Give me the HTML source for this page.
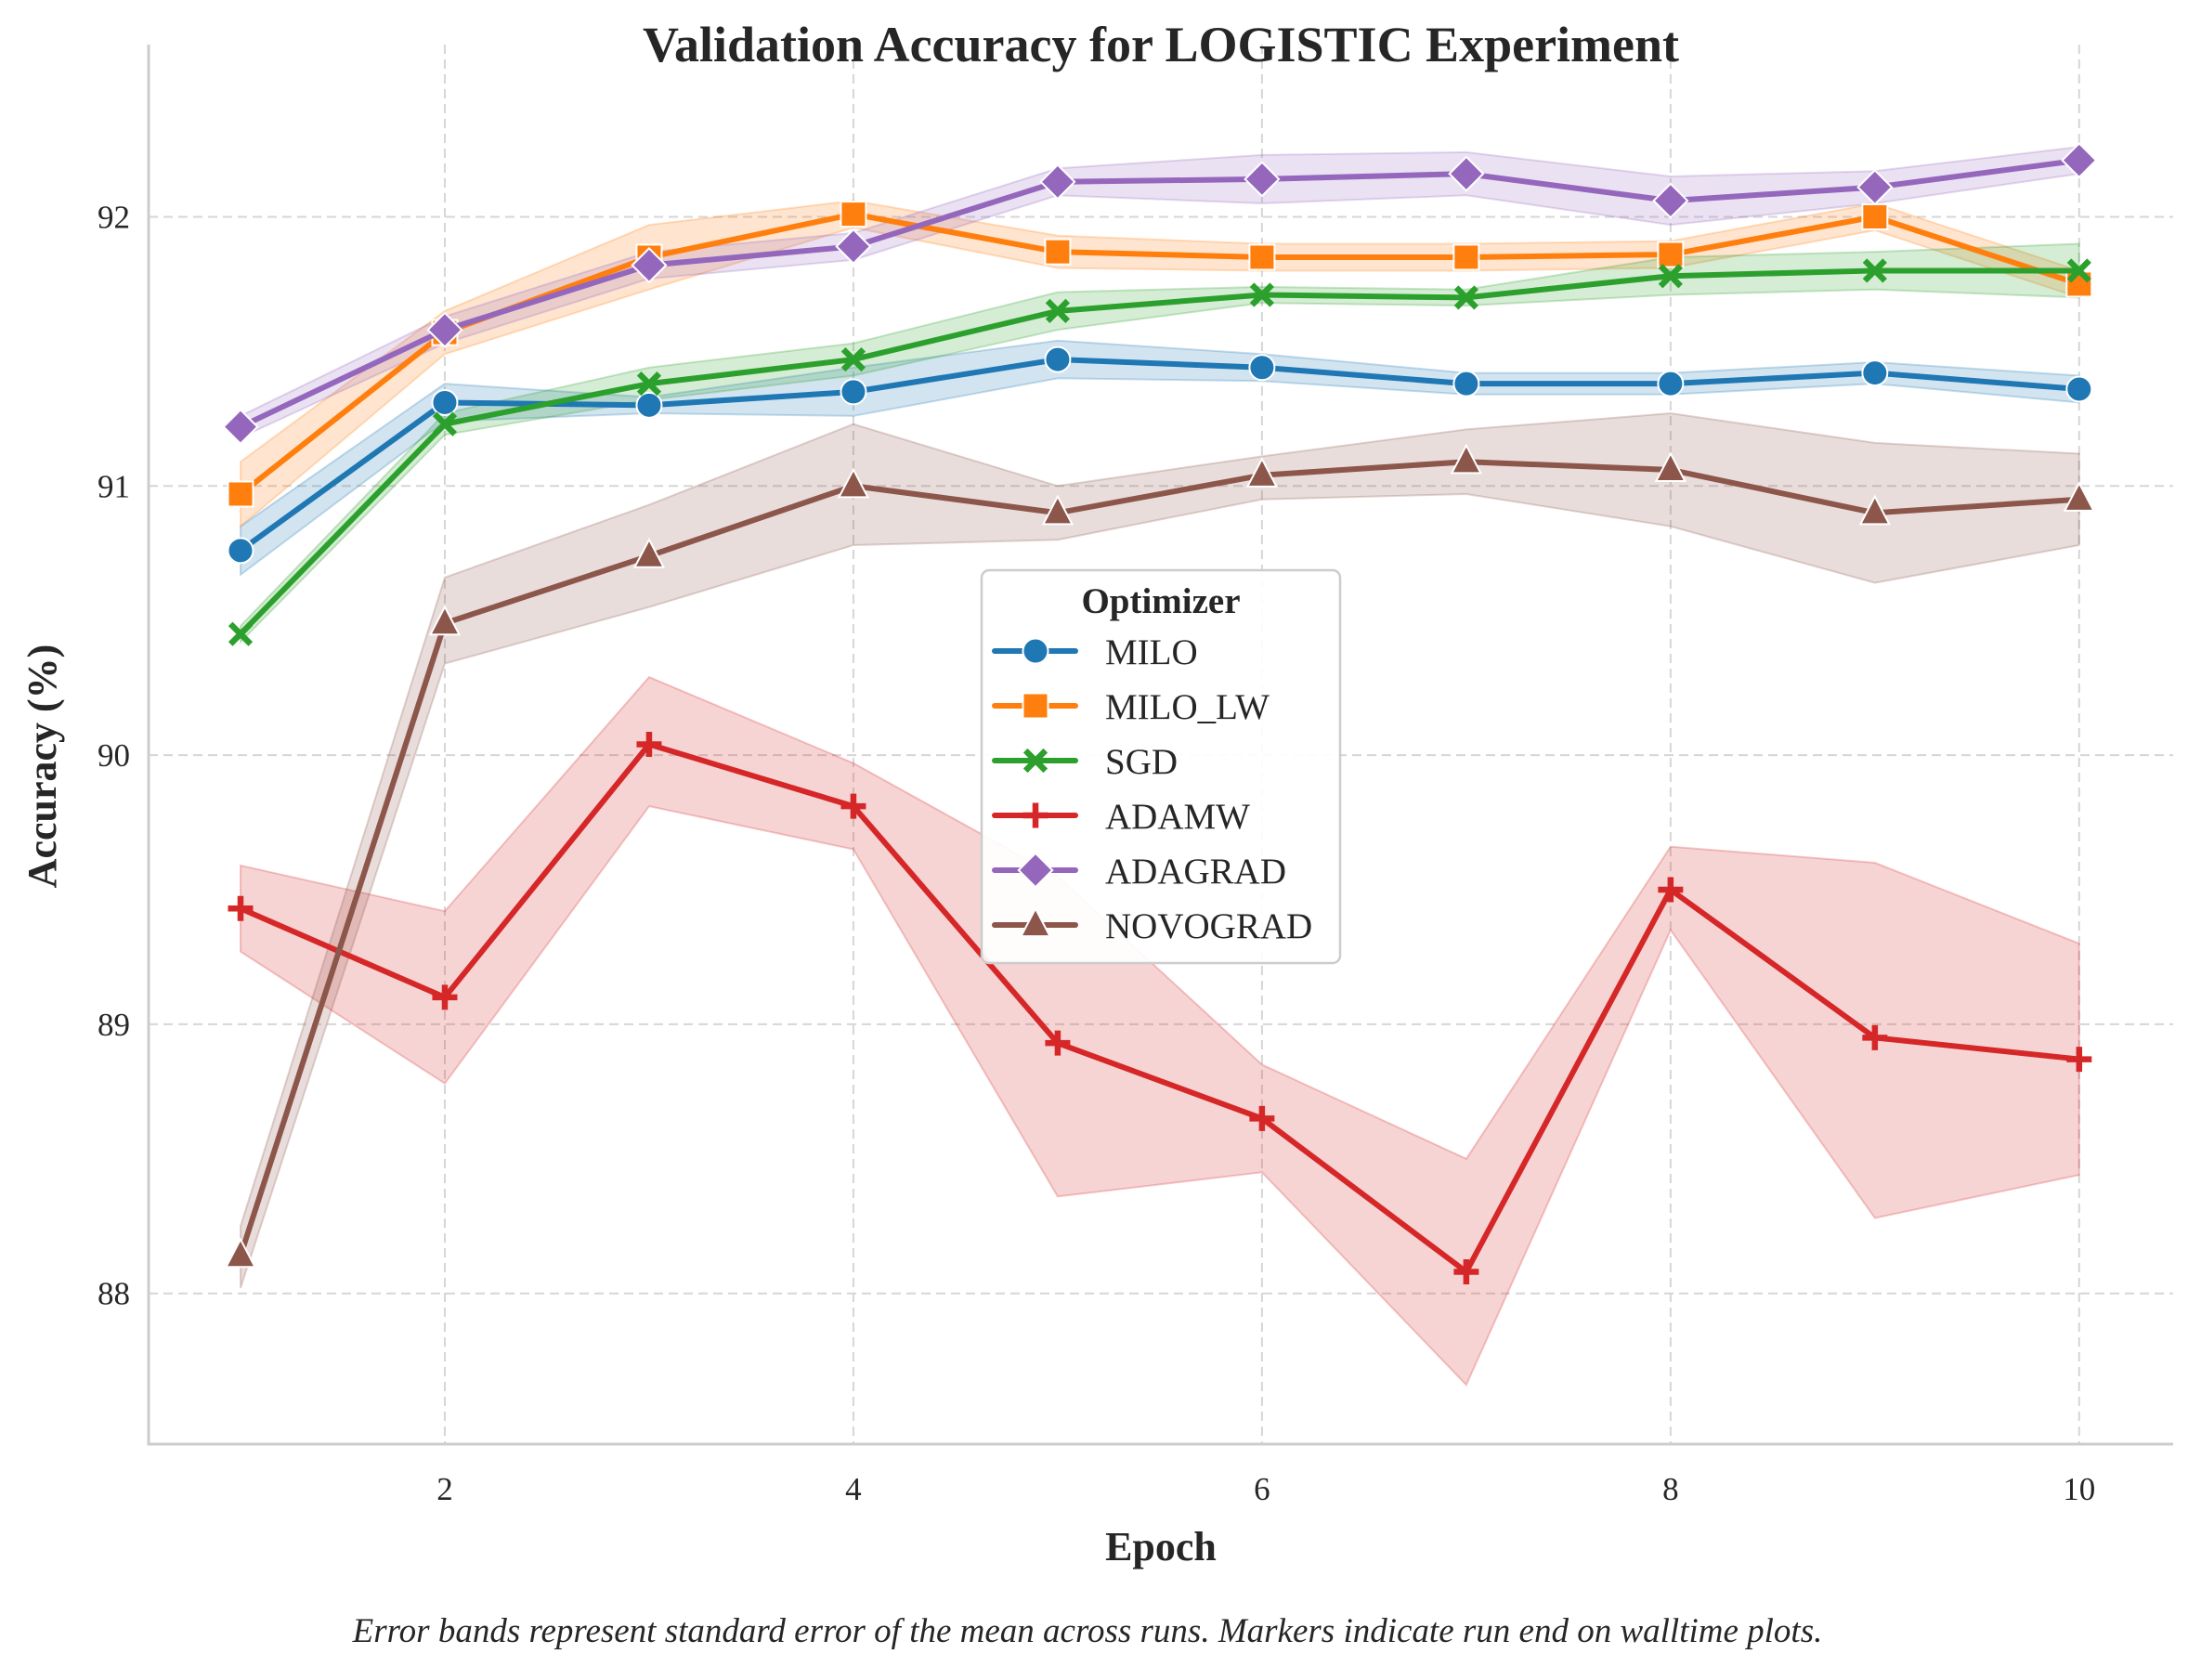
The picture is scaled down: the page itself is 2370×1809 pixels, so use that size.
<!DOCTYPE html>
<html><head><meta charset="utf-8"><style>
html,body{margin:0;padding:0;background:#fff;}
svg text{font-family:"Liberation Serif",serif;fill:#262626;}
</style></head><body>
<svg id="chart" width="2370" height="1804" viewBox="0 0 2370 1804" xmlns="http://www.w3.org/2000/svg">
<rect width="2370" height="1804" fill="#fff"/>
<g id="grid"></g><g id="bands"></g><g id="lines"></g><g id="axes"></g>
<text x="1250" y="66" text-anchor="middle" font-size="54" font-weight="bold">Validation Accuracy for LOGISTIC Experiment</text>
<text x="1250" y="1680" text-anchor="middle" font-size="44" font-weight="bold">Epoch</text>
<text transform="translate(60,825) rotate(-90)" text-anchor="middle" font-size="44" font-weight="bold">Accuracy (%)</text>
<text x="1171" y="1768" text-anchor="middle" font-size="37" font-style="italic">Error bands represent standard error of the mean across runs. Markers indicate run end on walltime plots.</text>
<g id="legend"></g>
</svg>
<script>
const epochs=[1,2,3,4,5,6,7,8,9,10];
const xTicks=[2,4,6,8,10];
const yTicks=[88,89,90,91,92];
const names=["MILO","MILO_LW","SGD","ADAMW","ADAGRAD","NOVOGRAD"];
const milo=[90.76,91.31,91.30,91.35,91.47,91.44,91.38,91.38,91.42,91.36];
const miloLo=[90.67,91.24,91.27,91.26,91.40,91.39,91.34,91.34,91.38,91.31];
const miloHi=[90.85,91.38,91.33,91.44,91.54,91.49,91.42,91.42,91.46,91.41];
const miloLw=[90.97,91.57,91.85,92.01,91.87,91.85,91.85,91.86,92.00,91.75];
const miloLwLo=[90.85,91.49,91.73,91.96,91.81,91.80,91.80,91.81,91.95,91.70];
const miloLwHi=[91.09,91.65,91.97,92.06,91.93,91.90,91.90,91.91,92.05,91.80];
const sgd=[90.45,91.23,91.38,91.47,91.65,91.71,91.70,91.78,91.80,91.80];
const sgdLo=[90.42,91.19,91.32,91.41,91.58,91.68,91.67,91.71,91.73,91.70];
const sgdHi=[90.48,91.27,91.44,91.53,91.72,91.74,91.73,91.85,91.87,91.90];
const adamw=[89.43,89.10,90.04,89.81,88.93,88.65,88.08,89.50,88.95,88.87];
const adamwLo=[89.27,88.78,89.81,89.65,88.36,88.45,87.66,89.35,88.28,88.44];
const adamwHi=[89.59,89.42,90.29,89.97,89.55,88.85,88.50,89.66,89.60,89.30];
const adagrad=[91.22,91.58,91.82,91.89,92.13,92.14,92.16,92.06,92.11,92.21];
const adagradLo=[91.18,91.53,91.77,91.84,92.08,92.05,92.08,91.97,92.05,92.16];
const adagradHi=[91.26,91.63,91.87,91.94,92.18,92.23,92.24,92.15,92.17,92.26];
const novograd=[88.14,90.49,90.74,91.00,90.90,91.04,91.09,91.06,90.90,90.95];
const novogradLo=[88.02,90.34,90.55,90.78,90.80,90.95,90.97,90.85,90.64,90.78];
const novogradHi=[88.25,90.66,90.93,91.23,91.00,91.11,91.21,91.27,91.16,91.12];

const series=[
 {name:names[0],v:milo,lo:miloLo,hi:miloHi,c:"#1f77b4",m:"circle"},
 {name:names[1],v:miloLw,lo:miloLwLo,hi:miloLwHi,c:"#ff7f0e",m:"square"},
 {name:names[2],v:sgd,lo:sgdLo,hi:sgdHi,c:"#2ca02c",m:"x"},
 {name:names[3],v:adamw,lo:adamwLo,hi:adamwHi,c:"#d62728",m:"plus"},
 {name:names[4],v:adagrad,lo:adagradLo,hi:adagradHi,c:"#9467bd",m:"diamond"},
 {name:names[5],v:novograd,lo:novogradLo,hi:novogradHi,c:"#8c564b",m:"triangle"}];
const L=160,R=2340,T=48,B=1555,X0=0.55,X1=10.46,Y0=87.44,Y1=92.64;
const sx=e=>L+(e-X0)/(X1-X0)*(R-L);
const sy=v=>B-(v-Y0)/(Y1-Y0)*(B-T);
const NS="http://www.w3.org/2000/svg";
function mk(tag,attrs,parent){const el=document.createElementNS(NS,tag);for(const k in attrs)el.setAttribute(k,attrs[k]);parent.appendChild(el);return el;}
const grid=document.getElementById('grid'),axes=document.getElementById('axes');
xTicks.forEach(t=>{
 const g=mk('line',{x1:sx(t),x2:sx(t),y1:T,y2:B,stroke:'#d6d6d6','stroke-width':2,'stroke-dasharray':'10,6'},grid);
 
 
 const tx=mk('text',{x:sx(t),y:B+60,'text-anchor':'middle','font-size':35},axes);tx.textContent=t;
 
 
});
yTicks.forEach(t=>{
 const g=mk('line',{x1:L,x2:R,y1:sy(t),y2:sy(t),stroke:'#d6d6d6','stroke-width':2,'stroke-dasharray':'10,6'},grid);
 
 
 const tx=mk('text',{x:L-20,y:sy(t)+12,'text-anchor':'end','font-size':35},axes);tx.textContent=t;
 
 
});
const sp1=mk('line',{x1:L,x2:L,y1:T,y2:B+1.5,stroke:'#cccccc','stroke-width':3},axes);


const sp2=mk('line',{x1:L-1.5,x2:R,y1:B,y2:B,stroke:'#cccccc','stroke-width':3},axes);



function marker(p,type,x,y,c,s){
 let el;
 if(type==='circle')el=mk('circle',{cx:x,cy:y,r:s,fill:c,stroke:'#fff','stroke-width':2},p);
 else if(type==='square')el=mk('rect',{x:x-s,y:y-s,width:2*s,height:2*s,fill:c,stroke:'#fff','stroke-width':2},p);
 else if(type==='diamond')el=mk('polygon',{points:`${x},${y-s*1.35} ${x+s*1.35},${y} ${x},${y+s*1.35} ${x-s*1.35},${y}`,fill:c,stroke:'#fff','stroke-width':2},p);
 else if(type==='triangle')el=mk('polygon',{points:`${x},${y-s*1.3} ${x+s*1.15},${y+s*0.9} ${x-s*1.15},${y+s*0.9}`,fill:c,stroke:'#fff','stroke-width':2},p);
 else if(type==='plus')el=mk('path',{d:`M${x-s},${y}H${x+s}M${x},${y-s}V${y+s}`,stroke:c,'stroke-width':6.5},p);
 else el=mk('path',{d:`M${x-s*0.8},${y-s*0.8}L${x+s*0.8},${y+s*0.8}M${x+s*0.8},${y-s*0.8}L${x-s*0.8},${y+s*0.8}`,stroke:c,'stroke-width':6.5},p);
 return el;
}
const bands=document.getElementById('bands'),lines=document.getElementById('lines');
series.forEach(s=>{
 const up=epochs.map((e,i)=>`${sx(e)},${sy(s.hi[i])}`);
 const dn=epochs.map((e,i)=>`${sx(e)},${sy(s.lo[i])}`).reverse();
 const b=mk('polygon',{points:up.concat(dn).join(' '),fill:s.c,'fill-opacity':0.2,stroke:s.c,'stroke-opacity':0.25,'stroke-width':2},bands);
 
 
});
series.forEach(s=>{
 const g=mk('g',{},lines);
 
 
 const pl=mk('polyline',{points:epochs.map((e,i)=>`${sx(e)},${sy(s.v[i])}`).join(' '),fill:'none',stroke:s.c,'stroke-width':6,'stroke-linejoin':'round'},g);
 
 
 epochs.forEach((e,i)=>{
  const m=marker(g,s.m,sx(e),sy(s.v[i]),s.c,13.5);
  
  
 });
});
const lg=document.getElementById('legend');
const box=mk('rect',{x:1057,y:614,width:386,height:423,rx:8,fill:'#fff','fill-opacity':0.92,stroke:'#cccccc','stroke-width':2.5},lg);


const lt=mk('text',{x:1250,y:660,'text-anchor':'middle','font-size':39,'font-weight':'bold'},lg);lt.textContent='Optimizer';


series.forEach((s,i)=>{
 const y=701+i*59;
 const g=mk('g',{},lg);
 
 
 mk('line',{x1:1071,x2:1158,y1:y,y2:y,stroke:s.c,'stroke-width':6,'stroke-linecap':'round'},g);
 marker(g,s.m,1115,y,s.c,13.5);
 const t=mk('text',{x:1190,y:y+14,'font-size':39},g);t.textContent=s.name;
});
</script>
</body></html>
